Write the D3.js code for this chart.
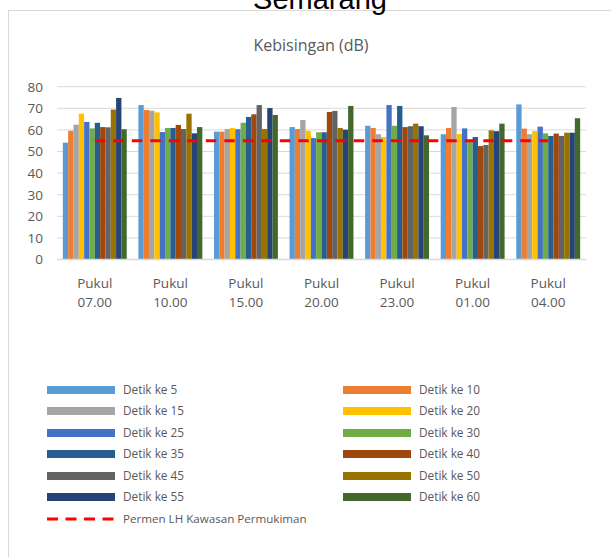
<!DOCTYPE html>
<html>
<head>
<meta charset="utf-8">
<script src="https://cdn.jsdelivr.net/npm/d3@7"></script>
<style>
  html, body { margin: 0; padding: 0; background: #fff; }
  svg { display: block; }
  text { font-family: "Open Sans", "Noto Sans", sans-serif; fill: #595959; }
</style>
</head>
<body>
<svg id="chart" width="611" height="557"></svg>
<script>
// Sampling times (category axis)
const categories = ["Pukul 07.00", "Pukul 10.00", "Pukul 15.00", "Pukul 20.00", "Pukul 23.00", "Pukul 01.00", "Pukul 04.00"];

// Noise readings (dB) per sampling second, one value per category
const detik5  = [54.1, 71.5, 59.2, 61.3, 61.9, 58.0, 71.8];
const detik10 = [59.6, 69.2, 59.2, 60.4, 60.9, 60.9, 60.6];
const detik15 = [62.4, 68.9, 60.4, 64.6, 58.0, 70.6, 58.0];
const detik20 = [67.5, 68.1, 60.9, 59.6, 56.7, 58.1, 59.5];
const detik25 = [63.7, 59.0, 60.3, 56.2, 71.5, 60.7, 61.5];
const detik30 = [60.7, 60.9, 63.3, 58.9, 61.9, 55.0, 58.4];
const detik35 = [63.3, 60.9, 66.0, 58.9, 71.1, 56.7, 57.2];
const detik40 = [61.3, 62.3, 67.2, 68.3, 61.3, 52.5, 58.3];
const detik45 = [61.2, 60.4, 71.5, 68.8, 61.7, 53.0, 57.2];
const detik50 = [69.4, 67.5, 60.4, 60.9, 62.9, 59.8, 58.7];
const detik55 = [74.8, 58.4, 70.1, 60.1, 61.7, 59.4, 58.7];
const detik60 = [60.3, 61.3, 66.9, 71.1, 57.5, 62.9, 65.4];

// Residential-area noise standard (Permen LH)
const bakuMutu = [55, 55, 55, 55, 55, 55, 55];

const seriesNames = ["Detik ke 5", "Detik ke 10", "Detik ke 15", "Detik ke 20", "Detik ke 25", "Detik ke 30",
                     "Detik ke 35", "Detik ke 40", "Detik ke 45", "Detik ke 50", "Detik ke 55", "Detik ke 60"];
const seriesValues = [detik5, detik10, detik15, detik20, detik25, detik30, detik35, detik40, detik45, detik50, detik55, detik60];
const seriesColors = ["#5B9BD5", "#ED7D31", "#A5A5A5", "#FFC000", "#4472C4", "#70AD47",
                      "#255E91", "#9E480E", "#636363", "#997300", "#264478", "#43682B"];
const lineName = "Permen LH Kawasan Permukiman";
const yTicks = [0, 10, 20, 30, 40, 50, 60, 70, 80];

const svg = d3.select("#chart");

// Chart frame
svg.append("rect")
  .attr("x", 8.5).attr("y", 10.5)
  .attr("width", 640).attr("height", 600)
  .attr("fill", "none").attr("stroke", "#d9d9d9").attr("stroke-width", 1);

// Titles
svg.append("text")
  .attr("x", 320).attr("y", 9)
  .attr("text-anchor", "middle")
  .style("font-family", "'Liberation Sans', Arial, sans-serif")
  .style("font-size", "29px").style("fill", "#000")
  .text("Semarang");

svg.append("text")
  .attr("x", 311).attr("y", 51)
  .attr("text-anchor", "middle")
  .style("font-size", "16px")
  .text("Kebisingan (dB)");

// Plot area
const plot = { left: 57, right: 586, top: 86.7, bottom: 259.5 };

const x0 = d3.scaleBand()
  .domain(categories)
  .range([plot.left, plot.right])
  .paddingInner(2.19 / 14.19)
  .paddingOuter(2.19 / 14.19 / 2);

const x1 = d3.scaleBand()
  .domain(seriesNames)
  .range([0, x0.bandwidth()])
  .padding(0);

const y = d3.scaleLinear().domain([0, 80]).range([plot.bottom, plot.top]);

// Horizontal gridlines
svg.append("g")
  .selectAll("line")
  .data(yTicks.filter(d => d > 0))
  .join("line")
  .attr("x1", plot.left).attr("x2", plot.right)
  .attr("y1", d => y(d)).attr("y2", d => y(d))
  .attr("stroke", "#d9d9d9").attr("stroke-width", 1);

// Y axis labels
const yAxis = d3.axisLeft(y).tickValues(yTicks).tickSize(0).tickPadding(0);
const yg = svg.append("g")
  .attr("transform", `translate(${plot.left - 14},0)`)
  .call(yAxis);
yg.select(".domain").remove();
yg.selectAll("text")
  .style("font-size", "13.5px")
  .style("fill", "#595959")
  .style("font-family", "'Open Sans', sans-serif");

// Bars
const groups = svg.append("g")
  .selectAll("g")
  .data(categories)
  .join("g")
  .attr("transform", d => `translate(${x0(d)},0)`);

groups.selectAll("rect")
  .data((cat, ci) => seriesNames.map((name, si) => ({ name, value: seriesValues[si][ci], color: seriesColors[si] })))
  .join("rect")
  .attr("x", d => x1(d.name))
  .attr("width", x1.bandwidth())
  .attr("y", d => y(d.value))
  .attr("height", d => y(0) - y(d.value))
  .attr("fill", d => d.color);

// Category axis line
svg.append("line")
  .attr("x1", plot.left).attr("x2", plot.right)
  .attr("y1", y(0)).attr("y2", y(0))
  .attr("stroke", "#d9d9d9").attr("stroke-width", 1.5);

// Category labels on two lines
const xLabels = svg.append("g")
  .selectAll("text")
  .data(categories)
  .join("text")
  .attr("x", d => x0(d) + x0.bandwidth() / 2)
  .attr("text-anchor", "middle")
  .style("font-size", "13.5px");
xLabels.append("tspan")
  .attr("x", d => x0(d) + x0.bandwidth() / 2)
  .attr("y", 288)
  .text(d => d.split(" ")[0]);
xLabels.append("tspan")
  .attr("x", d => x0(d) + x0.bandwidth() / 2)
  .attr("y", 307)
  .text(d => d.split(" ")[1]);

// Standard threshold line
const line = d3.line()
  .x((d, i) => x0(categories[i]) + x0.bandwidth() / 2)
  .y(d => y(d));
svg.append("path")
  .datum(bakuMutu)
  .attr("d", line)
  .attr("fill", "none")
  .attr("stroke", "#FF0000")
  .attr("stroke-width", 3)
  .attr("stroke-dasharray", "10.5,8");

// Legend
const legendRows = [390, 411, 433, 454, 476, 497];
const legendCols = [47, 343];
const legend = svg.append("g");
seriesNames.forEach((name, i) => {
  const col = i % 2, row = Math.floor(i / 2);
  const lx = legendCols[col], ly = legendRows[row];
  legend.append("rect")
    .attr("x", lx).attr("y", ly - 4)
    .attr("width", 68).attr("height", 8)
    .attr("fill", seriesColors[i]);
  legend.append("text")
    .attr("x", lx + 76).attr("y", ly + 4)
    .style("font-size", "11.8px")
    .text(name);
});
legend.append("line")
  .attr("x1", 47).attr("x2", 115)
  .attr("y1", 519).attr("y2", 519)
  .attr("stroke", "#FF0000").attr("stroke-width", 3)
  .attr("stroke-dasharray", "11,7.5");
legend.append("text")
  .attr("x", 123).attr("y", 523)
  .style("font-size", "11.6px")
  .text(lineName);
</script>
</body>
</html>
